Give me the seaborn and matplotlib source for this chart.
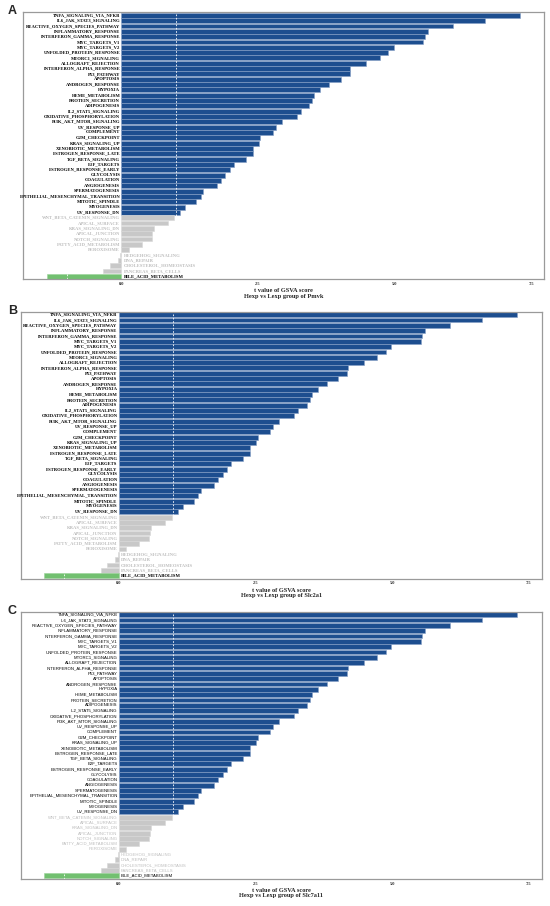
import numpy as np
import pandas as pd
import matplotlib
matplotlib.use("Agg")
import matplotlib.pyplot as plt
import seaborn as sns

# hallmark pathways, ranked by t value (same ranking in all three panels)
pathways = [
    "TNFA_SIGNALING_VIA_NFKB", "IL6_JAK_STAT3_SIGNALING", "REACTIVE_OXYGEN_SPECIES_PATHWAY",
    "INFLAMMATORY_RESPONSE", "INTERFERON_GAMMA_RESPONSE", "MYC_TARGETS_V1", "MYC_TARGETS_V2",
    "UNFOLDED_PROTEIN_RESPONSE", "MTORC1_SIGNALING", "ALLOGRAFT_REJECTION",
    "INTERFERON_ALPHA_RESPONSE", "P53_PATHWAY", "APOPTOSIS", "ANDROGEN_RESPONSE", "HYPOXIA",
    "HEME_METABOLISM", "PROTEIN_SECRETION", "ADIPOGENESIS", "IL2_STAT5_SIGNALING",
    "OXIDATIVE_PHOSPHORYLATION", "PI3K_AKT_MTOR_SIGNALING", "UV_RESPONSE_UP", "COMPLEMENT",
    "G2M_CHECKPOINT", "KRAS_SIGNALING_UP", "XENOBIOTIC_METABOLISM", "ESTROGEN_RESPONSE_LATE",
    "TGF_BETA_SIGNALING", "E2F_TARGETS", "ESTROGEN_RESPONSE_EARLY", "GLYCOLYSIS", "COAGULATION",
    "ANGIOGENESIS", "SPERMATOGENESIS", "EPITHELIAL_MESENCHYMAL_TRANSITION", "MITOTIC_SPINDLE",
    "MYOGENESIS", "UV_RESPONSE_DN", "WNT_BETA_CATENIN_SIGNALING", "APICAL_SURFACE",
    "KRAS_SIGNALING_DN", "APICAL_JUNCTION", "NOTCH_SIGNALING", "FATTY_ACID_METABOLISM",
    "PEROXISOME", "HEDGEHOG_SIGNALING", "DNA_REPAIR", "CHOLESTEROL_HOMEOSTASIS",
    "PANCREAS_BETA_CELLS", "BILE_ACID_METABOLISM",
]

t_pmvk = [
    7.29, 6.64, 6.06, 5.60, 5.55, 5.52, 4.98, 4.88, 4.73, 4.48,
    4.19, 4.18, 4.01, 3.80, 3.64, 3.53, 3.49, 3.44, 3.28, 3.21,
    2.93, 2.82, 2.77, 2.54, 2.52, 2.41, 2.40, 2.28, 2.06, 1.99,
    1.90, 1.82, 1.75, 1.50, 1.45, 1.37, 1.17, 1.08, 0.97, 0.85,
    0.60, 0.57, 0.56, 0.38, 0.14, -0.02, -0.06, -0.21, -0.33, -1.36,
]
t_slc2a1 = list(t_pmvk)
t_slc7a11 = list(t_pmvk)

genes = ["Pmvk", "Slc2a1", "Slc7a11"]
panel_letters = ["A", "B", "C"]
cutoff = 1

colors = {"up": "#1d4e8f", "ns": "#c8c8c8", "down": "#72c070"}
edges = {"up": "#86a0c6", "ns": "#d8d8d8", "down": "#9bd39a"}

fig = plt.figure(figsize=(5.5, 9.06), dpi=100)
sns.set_style("white")

axes_pos = [
    [0.0424, 0.6917, 0.947, 0.2947],
    [0.0376, 0.3613, 0.947, 0.2947],
    [0.0376, 0.0301, 0.947, 0.2947],
]

for k, (gene, vals) in enumerate(zip(genes, [t_pmvk, t_slc2a1, t_slc7a11])):
    df = pd.DataFrame({"pathway": pathways, "t": vals})
    df["group"] = np.where(df["t"] > cutoff, "up", np.where(df["t"] < -cutoff, "down", "ns"))

    ax = fig.add_axes(axes_pos[k])
    sns.barplot(data=df, x="t", y="pathway", hue="group", palette=colors,
                dodge=False, legend=False, width=0.9, orient="h", saturation=1,
                linewidth=0.4, ax=ax)
    # edge colour per group (bars come out in data order)
    for p in ax.patches:
        yc = p.get_y() + p.get_height() / 2
        i = int(round(yc))
        if 0 <= i < len(df) and p.get_width() != 0:
            p.set_edgecolor(edges[df["group"].iloc[i]])

    ax.axvline(cutoff, color="white", ls=(0, (2, 2)), lw=0.6)
    ax.axvline(-cutoff, color="white", ls=(0, (2, 2)), lw=0.6)

    if k < 2:
        lab_font = dict(family="Liberation Serif", weight="bold", size=3.3)
    else:
        lab_font = dict(family="Liberation Sans", weight="normal", size=3.1)

    for i, row in df.iterrows():
        col = "#bdbdbd" if row["group"] == "ns" else "black"
        if row["t"] > 0:
            ax.text(-0.02, i, row["pathway"], ha="right", va="center", color=col, **lab_font)
        else:
            ax.text(0.04, i, row["pathway"], ha="left", va="center", color=col, **lab_font)

    ax.set_xlim(-1.79, 7.73)
    ax.set_ylim(49.55, -0.55)
    ax.set_yticks([])
    ax.set_ylabel("")
    ax.set_xticks([0, 2.5, 5.0, 7.5])
    ax.set_xticklabels(["0.0", "2.5", "5.0", "7.5"], family="Liberation Serif",
                       weight="bold", size=3.2)
    ax.tick_params(axis="x", length=0, pad=2)
    ax.set_xlabel("t value of GSVA score\nHexp vs Lexp group of " + gene,
                  family="Liberation Serif", weight="bold", size=4.6, labelpad=1.5,
                  linespacing=1.1)
    for s in ax.spines.values():
        s.set_color("#9a9a9a")
        s.set_linewidth(0.9)

    fig.text(0.014, axes_pos[k][1] + axes_pos[k][3] + 0.001, panel_letters[k],
             family="Liberation Sans", weight="bold", size=9, va="center")

fig.savefig("out.png", dpi=100)
